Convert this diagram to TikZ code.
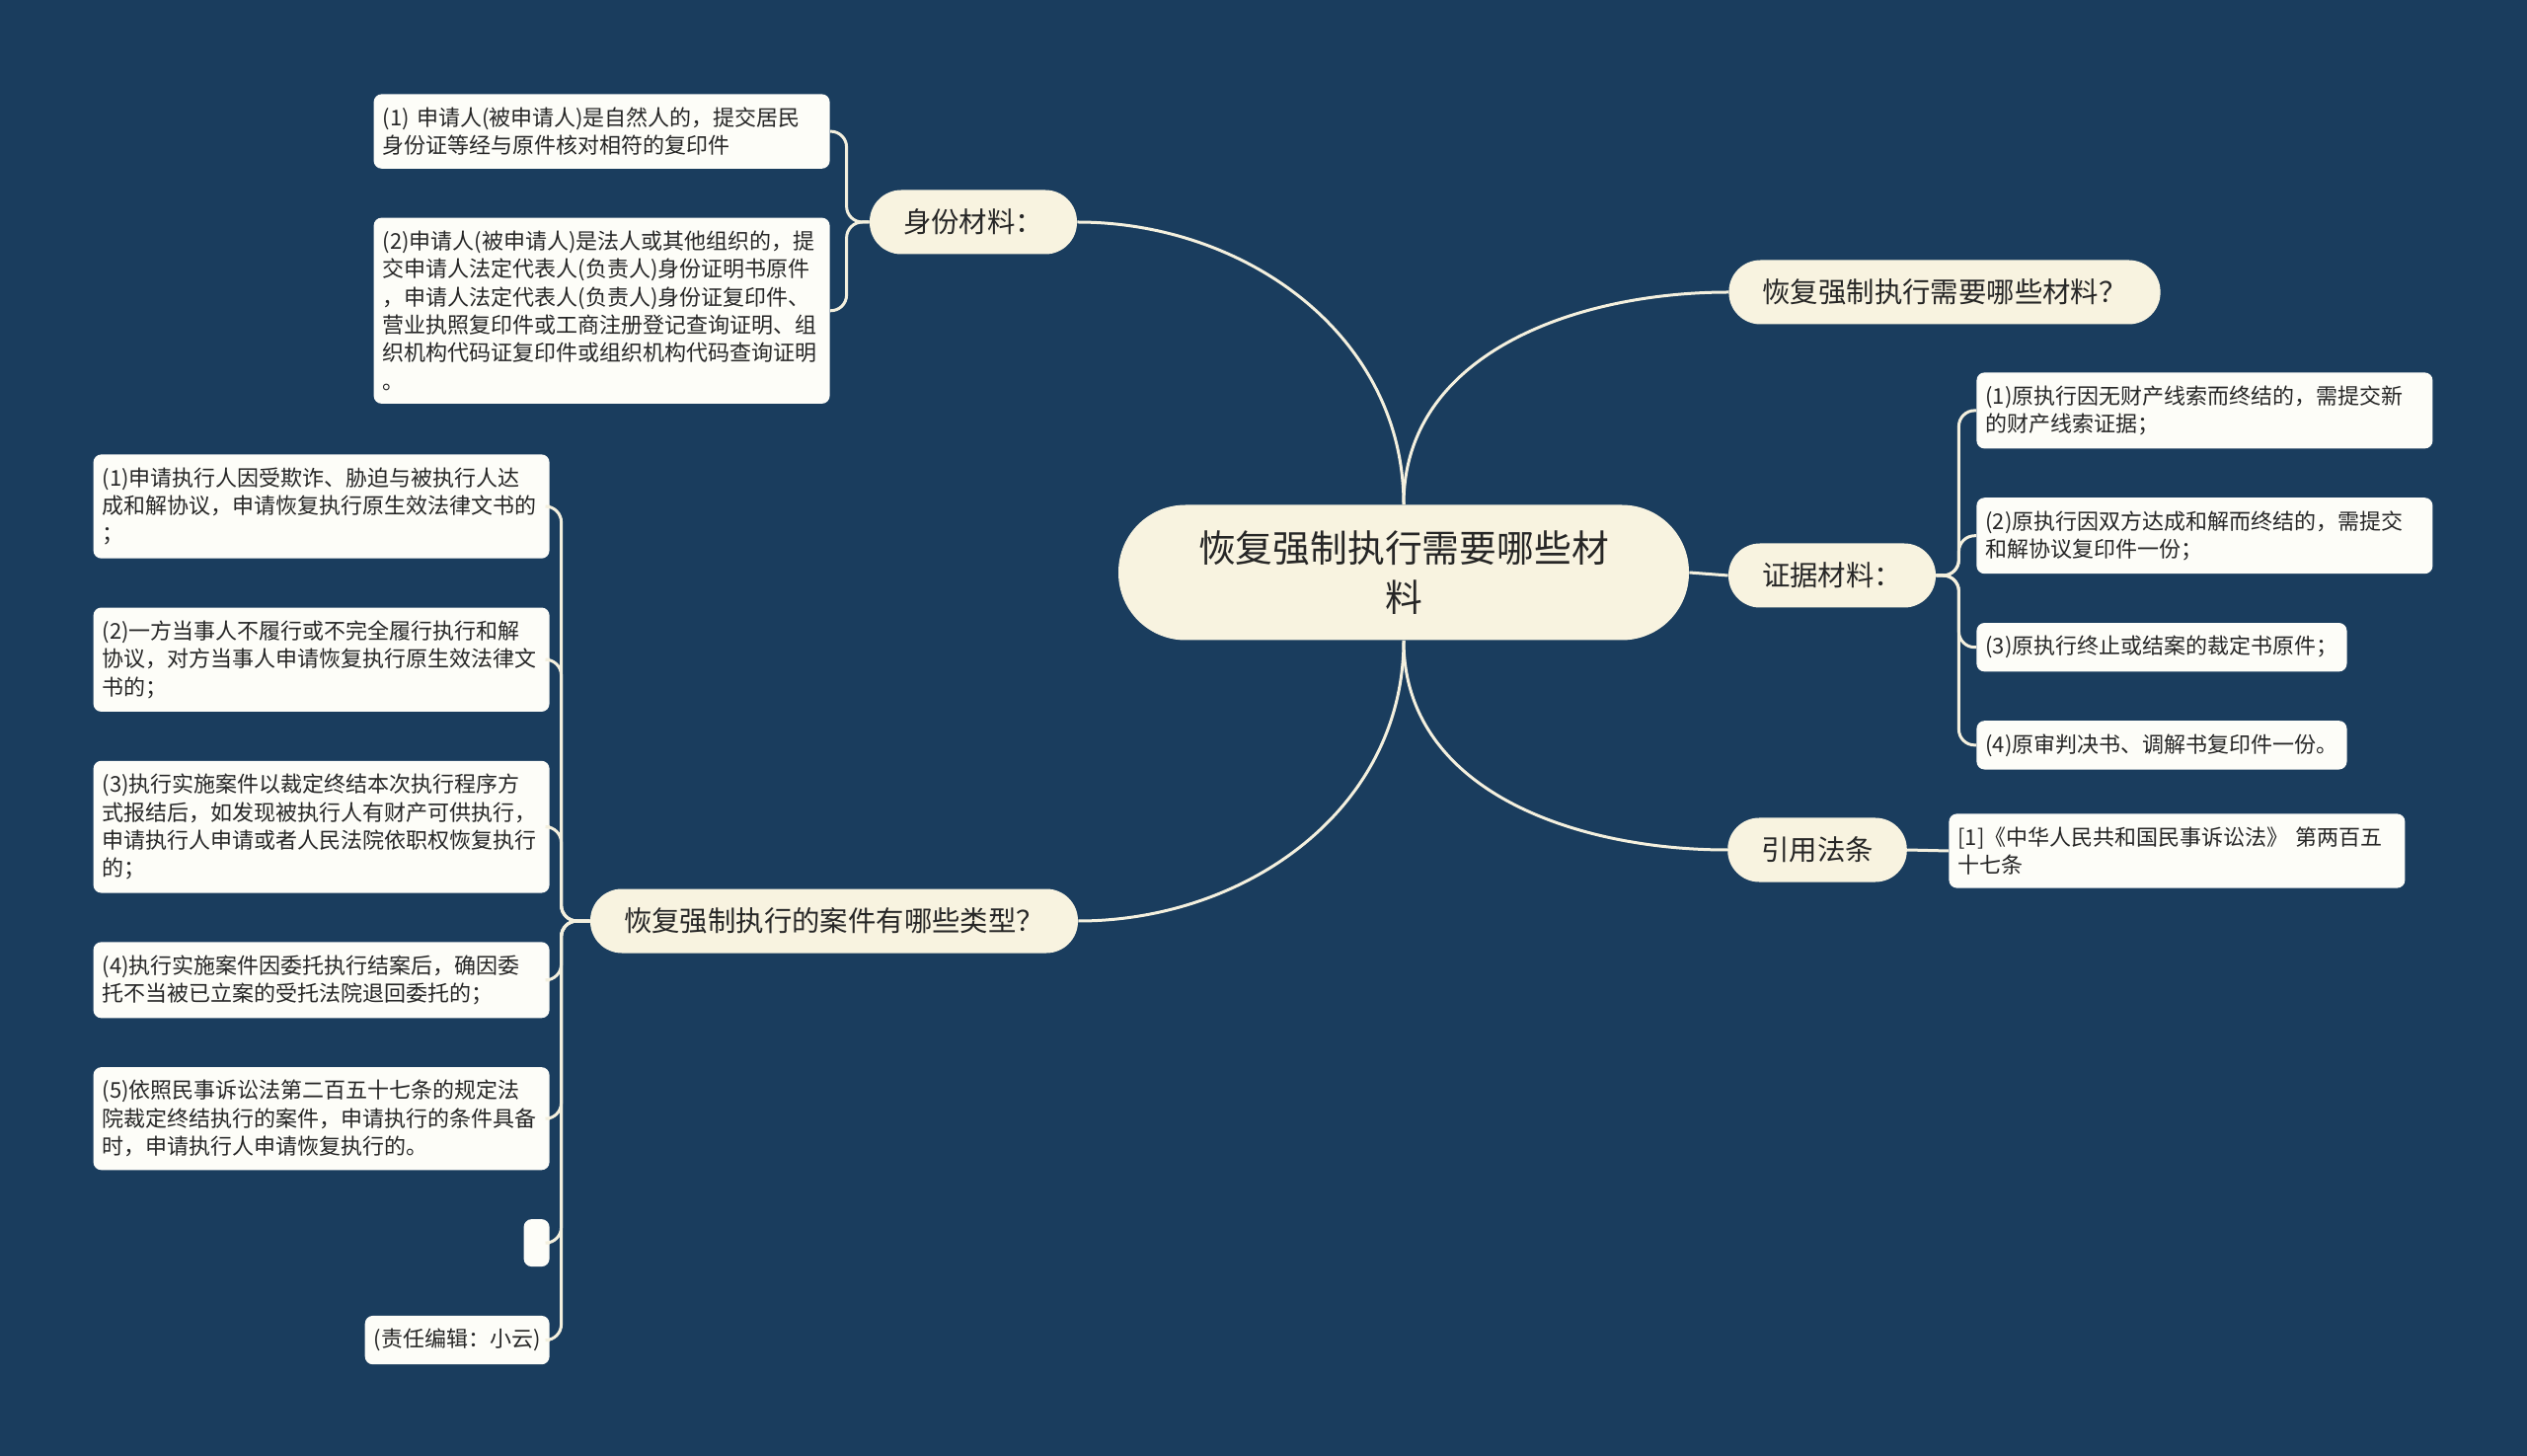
\documentclass[tikz,border=0pt]{standalone}
\usepackage{fontspec}
\setmainfont{Noto Sans CJK SC}
\usetikzlibrary{positioning}
\definecolor{bg}{RGB}{26,61,94}
\definecolor{cream}{RGB}{248,243,224}
\definecolor{paper}{RGB}{253,253,248}
\definecolor{ink}{RGB}{38,38,38}
\definecolor{wire}{RGB}{244,240,222}
\tikzset{
  root/.style={rectangle, rounded corners=34pt, fill=cream, text=ink, align=center,
               text width=212pt, minimum width=289pt, minimum height=68.5pt,
               font=\fontsize{18.9}{25}\selectfont},
  topic/.style={rectangle, rounded corners=16pt, fill=cream, text=ink,
                minimum height=32.5pt, inner xsep=17pt, font=\fontsize{14.2}{16}\selectfont},
  leaf/.style={rectangle, rounded corners=4pt, fill=paper, text=ink, align=left,
               inner xsep=4.5pt, inner ysep=6.6pt, font=\fontsize{11}{14.2}\selectfont},
  leafw/.style={leaf, text width=222pt},
  link/.style={draw=wire, line width=1.5pt},
  brace/.style={link, rounded corners=8pt},
}

\begin{document}
\begin{tikzpicture}[x=0.5pt, y=0.5pt]

  \fill[bg] (0,0) rectangle (2560,-1475);
  \useasboundingbox (0,0) rectangle (2560,-1475);

  % ============ centre and the five topics ============
  \node[root] (ctr) at (1422,-580) {恢复强制执行需要哪些材\\料};

  \node[topic] (sf) at (986,-225) {身份材料：};
  \node[topic] (q1) at (1970,-296) {恢复强制执行需要哪些材料？};
  \node[topic] (zj) at (1856,-583) {证据材料：};
  \node[topic] (yy) at (1841,-861) {引用法条};
  \node[topic] (q2) at (845,-933) {恢复强制执行的案件有哪些类型？};

  \draw[link] (ctr.north) to[out=90, in=0] (sf.east);
  \draw[link] (ctr.north) to[out=90, in=180] (q1.west);
  \draw[link] (ctr.east) -- (zj.west);
  \draw[link] (ctr.south) to[out=-90, in=180] (yy.west);
  \draw[link] (ctr.south) to[out=-90, in=0] (q2.east);

  % ============ identity papers ============
  \node[leafw, anchor=north east] (l1) at (841,-95)
    {(1) 申请人(被申请人)是自然人的，提交居民\\身份证等经与原件核对相符的复印件};
  \node[leafw, below=24.5pt of l1.south east, anchor=north east] (l2)
    {(2)申请人(被申请人)是法人或其他组织的，提\\交申请人法定代表人(负责人)身份证明书原件\\，申请人法定代表人(负责人)身份证复印件、\\营业执照复印件或工商注册登记查询证明、组\\织机构代码证复印件或组织机构代码查询证明\\。};

  \foreach \n in {l1,l2}
    \draw[brace] (sf.west) -- ++(-23,0) |- (\n.east);

  % ============ evidence ============
  \node[leafw, anchor=north west] (e1) at (2002,-377)
    {(1)原执行因无财产线索而终结的，需提交新\\的财产线索证据；};
  \node[leafw, below=24.5pt of e1.south west, anchor=north west] (e2)
    {(2)原执行因双方达成和解而终结的，需提交\\和解协议复印件一份；};
  \node[leaf, below=24.5pt of e2.south west, anchor=north west] (e3)
    {(3)原执行终止或结案的裁定书原件；};
  \node[leaf, below=24.5pt of e3.south west, anchor=north west] (e4)
    {(4)原审判决书、调解书复印件一份。};

  \foreach \n in {e1,e2,e3,e4}
    \draw[brace] (zj.east) -- ++(23,0) |- (\n.west);

  % ============ cited law ============
  \node[leafw, anchor=west] (law) at (1974,-862)
    {[1]《中华人民共和国民事诉讼法》 第两百五\\十七条};
  \draw[link] (yy.east) -- (law.west);

  % ============ case types ============
  \node[leafw, anchor=north east] (a1) at (557,-460)
    {(1)申请执行人因受欺诈、胁迫与被执行人达\\成和解协议，申请恢复执行原生效法律文书的\\；};
  \node[leafw, below=24.5pt of a1.south east, anchor=north east] (a2)
    {(2)一方当事人不履行或不完全履行执行和解\\协议，对方当事人申请恢复执行原生效法律文\\书的；};
  \node[leafw, below=24.5pt of a2.south east, anchor=north east] (a3)
    {(3)执行实施案件以裁定终结本次执行程序方\\式报结后，如发现被执行人有财产可供执行，\\申请执行人申请或者人民法院依职权恢复执行\\的；};
  \node[leafw, below=24.5pt of a3.south east, anchor=north east] (a4)
    {(4)执行实施案件因委托执行结案后，确因委\\托不当被已立案的受托法院退回委托的；};
  \node[leafw, below=24.5pt of a4.south east, anchor=north east] (a5)
    {(5)依照民事诉讼法第二百五十七条的规定法\\院裁定终结执行的案件，申请执行的条件具备\\时，申请执行人申请恢复执行的。};
  \node[leaf, inner sep=0pt, minimum width=13pt, minimum height=24pt,
        below=24.5pt of a5.south east, anchor=north east] (a6) {};
  \node[leaf, below=24.5pt of a6.south east, anchor=north east] (a7)
    {(责任编辑：小云)};

  \foreach \n in {a1,a2,a3,a4,a5,a6,a7}
    \draw[brace] (q2.west) -- ++(-29,0) |- (\n.east);

\end{tikzpicture}
\end{document}
